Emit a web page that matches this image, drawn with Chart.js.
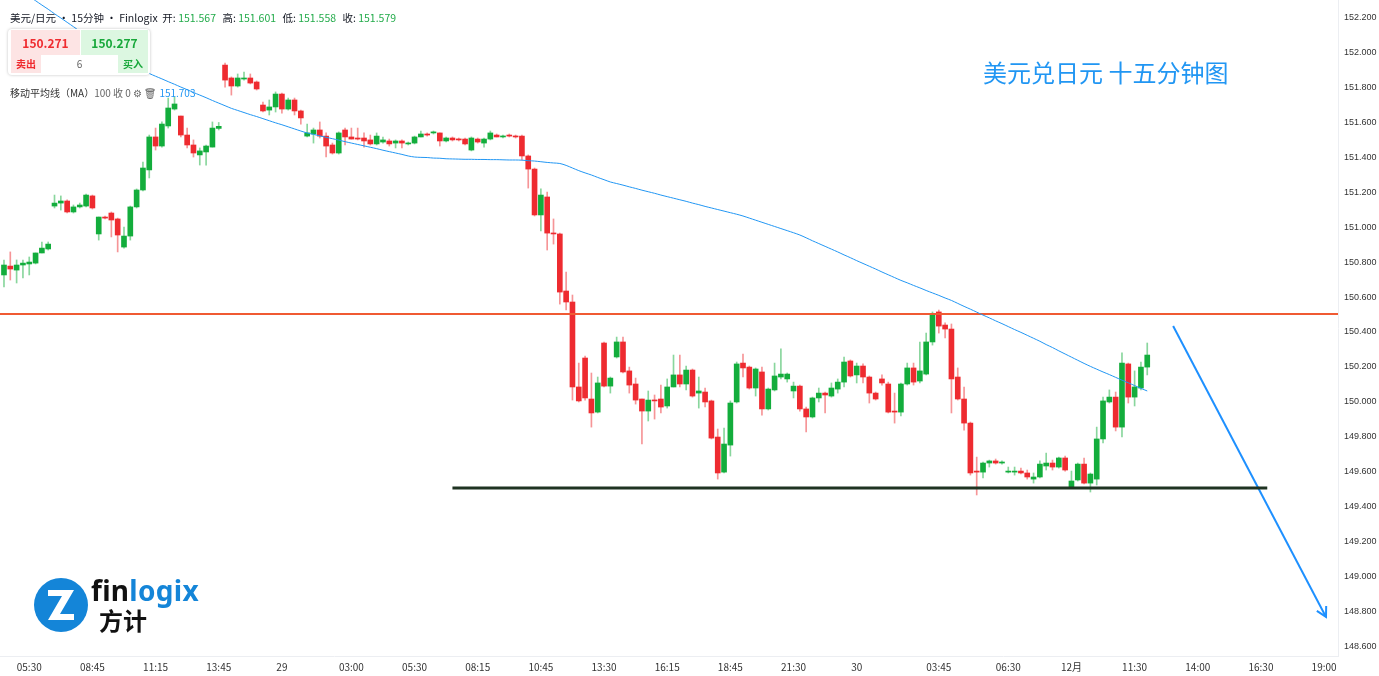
<!DOCTYPE html>
<html>
<head>
<meta charset="utf-8">
<script src="https://cdn.jsdelivr.net/npm/chart.js@4.4.1/dist/chart.umd.min.js"></script>
<style>
  html, body { margin: 0; padding: 0; background: #fff; }
  #wrap { position: relative; width: 1379px; height: 676px; overflow: hidden; font-family: "Noto Sans CJK SC", "Noto Sans", sans-serif; }
  #wrap canvas { position: absolute; left: 0; top: 0; }
  .ov { position: absolute; white-space: nowrap; }
  .hdr { left: 10px; top: 10px; font-size: 10.5px; color: #131722; }
  .hdr .v { color: #22ab4a; margin-right: 4px; }
  .box { left: 8px; top: 29px; width: 142px; height: 46px; border-radius: 4px; box-shadow: 0 0 3px rgba(0,0,0,0.25); background: #fff; }
  .cell { position: absolute; text-align: center; }
  .ma { left: 10px; top: 85px; font-size: 10px; color: #333; }
  .ma .g { color: #666; }
  .ma .b { color: #2196f3; margin-left: 2px; }
  .title { left: 983px; top: 54px; font-size: 24px; color: #2196f3; }
</style>
</head>
<body>
<div id="wrap">
  <canvas id="c" width="1379" height="676"></canvas>
  <div class="ov hdr">美元/日元 • 15分钟 • Finlogix&nbsp; 开: <span class="v">151.567</span> 高: <span class="v">151.601</span> 低: <span class="v">151.558</span> 收: <span class="v">151.579</span></div>
  <div class="ov box">
    <div class="cell" style="left:3px;top:1px;width:69px;height:25px;line-height:25px;background:#fde4e4;color:#ef2b2f;font-weight:bold;font-size:12px;">150.271</div>
    <div class="cell" style="left:73px;top:1px;width:67px;height:25px;line-height:25px;background:#dcf7e1;color:#18a83b;font-weight:bold;font-size:12px;">150.277</div>
    <div class="cell" style="left:3px;top:26px;width:30px;height:18px;line-height:18px;background:#fde4e4;color:#ef2b2f;font-weight:bold;font-size:10px;">卖出</div>
    <div class="cell" style="left:33px;top:26px;width:77px;height:18px;line-height:18px;color:#666;font-size:10px;">6</div>
    <div class="cell" style="left:110px;top:26px;width:30px;height:18px;line-height:18px;background:#dcf7e1;color:#18a83b;font-weight:bold;font-size:10px;">买入</div>
  </div>
  <div class="ov ma">移动平均线（MA）<span class="g">100 收 0 ⚙ 🗑</span><span class="b">151.703</span></div>
  <div class="ov title">美元兑日元 十五分钟图</div>
  <svg class="ov" style="left:34px;top:574px" width="170" height="62" viewBox="0 0 170 62">
    <circle cx="27" cy="31" r="27" fill="#1485d8"/>
    <path d="M14 16 H40 L26 40 H40 V46 H14 L28 22 H14 Z" fill="#fff"/>
    <text x="57" y="27" font-family="Noto Sans, sans-serif" font-weight="bold" font-size="28" letter-spacing="0.3"><tspan fill="#111">fin</tspan><tspan fill="#1485d8">logix</tspan></text>
    <text x="65" y="56" font-family="Noto Sans CJK SC, sans-serif" font-weight="bold" font-size="24" fill="#111">方计</text>
  </svg>
</div>
<script>
// tick labels on the time axis (bar index where each label sits)
const timeLabels = ['05:30', '08:45', '11:15', '13:45', '29', '03:00', '05:30', '08:15', '10:45', '13:30', '16:15',
  '18:45', '21:30', '30', '03:45', '06:30', '12月', '11:30', '14:00', '16:30', '19:00'];
const timeLabelIdx = [4, 14, 24, 34, 44, 55, 65, 75, 85, 95, 105, 115, 125, 135, 148, 159, 169, 179, 189, 199, 209];

const priceTicks = [148.6, 148.8, 149.0, 149.2, 149.4, 149.6, 149.8, 150.0, 150.2, 150.4, 150.6, 150.8, 151.0, 151.2, 151.4, 151.6, 151.8, 152.0, 152.2];

// 15 minute candles
const opens = [
  150.727, 150.778, 150.755, 150.784, 150.790, 150.795, 150.853, 150.876, 151.122, 151.139,
  151.151, 151.088, 151.117, 151.122, 151.180, 150.962, 151.059, 151.082, 151.048, 150.887,
  150.950, 151.117, 151.214, 151.329, 151.518, 151.466, 151.581, 151.678, 151.638, 151.529,
  151.472, 151.415, 151.432, 151.460, 151.567, 151.930, 151.856, 151.810, 151.850, 151.856,
  151.833, 151.701, 151.672, 151.690, 151.764, 151.678, 151.730, 151.667, 151.523, 151.535,
  151.558, 151.523, 151.472, 151.426, 151.558, 151.518, 151.512, 151.512, 151.501, 151.478,
  151.489, 151.495, 151.483, 151.495, 151.478, 151.483, 151.518, 151.535, 151.541, 151.541,
  151.495, 151.512, 151.506, 151.506, 151.443, 151.506, 151.483, 151.506, 151.529, 151.518,
  151.529, 151.523, 151.523, 151.409, 151.334, 151.071, 151.174, 150.967, 150.962, 150.635,
  150.572, 150.085, 150.251, 150.016, 149.941, 150.337, 150.090, 150.257, 150.343, 150.177,
  150.102, 150.016, 149.947, 150.010, 150.016, 149.976, 150.085, 150.154, 150.102, 150.182,
  150.050, 150.056, 150.005, 149.798, 149.597, 149.752, 149.999, 150.222, 150.199, 150.079,
  150.171, 149.959, 150.068, 150.142, 150.131, 150.062, 150.090, 149.959, 149.913, 150.022,
  150.050, 150.033, 150.073, 150.113, 150.234, 150.154, 150.205, 150.142, 150.050, 150.131,
  150.102, 149.947, 149.941, 150.102, 150.194, 150.119, 150.159, 150.343, 150.515, 150.440,
  150.417, 150.142, 150.016, 149.878, 149.603, 149.597, 149.649, 149.661, 149.649, 149.597,
  149.597, 149.603, 149.592, 149.557, 149.569, 149.632, 149.649, 149.626, 149.678, 149.511,
  149.552, 149.643, 149.534, 149.557, 149.787, 149.999, 150.027, 149.855, 150.217, 150.027,
  150.079, 150.199
];
const highs = [
  150.813, 150.859, 150.813, 150.813, 150.830, 150.853, 150.916, 150.916, 151.185, 151.180,
  151.157, 151.128, 151.139, 151.191, 151.185, 151.059, 151.065, 151.088, 151.053, 151.002,
  151.122, 151.220, 151.374, 151.529, 151.569, 151.604, 151.741, 151.747, 151.638, 151.569,
  151.501, 151.455, 151.472, 151.604, 151.601, 151.942, 151.862, 151.879, 151.890, 151.879,
  151.839, 151.718, 151.730, 151.776, 151.770, 151.741, 151.741, 151.672, 151.592, 151.569,
  151.604, 151.541, 151.483, 151.547, 151.569, 151.569, 151.569, 151.541, 151.529, 151.541,
  151.518, 151.506, 151.501, 151.501, 151.489, 151.523, 151.552, 151.541, 151.552, 151.541,
  151.518, 151.518, 151.512, 151.512, 151.518, 151.512, 151.512, 151.552, 151.535, 151.529,
  151.535, 151.529, 151.529, 151.415, 151.340, 151.220, 151.202, 151.048, 150.967, 150.744,
  150.612, 150.222, 150.262, 150.165, 150.142, 150.343, 150.142, 150.371, 150.371, 150.199,
  150.136, 150.016, 150.062, 150.039, 150.096, 150.131, 150.268, 150.268, 150.205, 150.188,
  150.142, 150.079, 150.010, 149.844, 149.850, 150.005, 150.228, 150.274, 150.205, 150.194,
  150.199, 150.079, 150.222, 150.303, 150.165, 150.113, 150.096, 149.970, 150.027, 150.079,
  150.056, 150.108, 150.131, 150.257, 150.240, 150.222, 150.217, 150.148, 150.056, 150.154,
  150.113, 150.050, 150.108, 150.222, 150.222, 150.343, 150.394, 150.515, 150.526, 150.452,
  150.446, 150.194, 150.085, 149.884, 149.683, 149.655, 149.666, 149.672, 149.661, 149.626,
  149.626, 149.620, 149.609, 149.592, 149.661, 149.706, 149.666, 149.683, 149.689, 149.603,
  149.649, 149.678, 149.592, 149.855, 150.027, 150.068, 150.056, 150.280, 150.222, 150.177,
  150.228, 150.337
];
const lows = [
  150.658, 150.698, 150.681, 150.710, 150.727, 150.790, 150.853, 150.870, 151.111, 151.099,
  151.082, 151.082, 151.111, 151.117, 151.105, 150.927, 151.048, 150.945, 150.859, 150.881,
  150.927, 151.111, 151.208, 151.283, 151.443, 151.460, 151.569, 151.672, 151.518, 151.455,
  151.403, 151.357, 151.357, 151.460, 151.558, 151.804, 151.758, 151.804, 151.844, 151.822,
  151.787, 151.661, 151.644, 151.661, 151.655, 151.672, 151.644, 151.592, 151.518, 151.483,
  151.512, 151.403, 151.420, 151.420, 151.472, 151.506, 151.501, 151.460, 151.472, 151.472,
  151.483, 151.466, 151.455, 151.455, 151.472, 151.478, 151.518, 151.523, 151.535, 151.466,
  151.489, 151.495, 151.495, 151.472, 151.438, 151.483, 151.460, 151.501, 151.518, 151.512,
  151.518, 151.512, 151.386, 151.225, 151.065, 150.979, 150.870, 150.904, 150.560, 150.526,
  150.010, 149.999, 150.010, 149.855, 149.936, 150.085, 150.050, 150.251, 150.165, 150.050,
  149.987, 149.758, 149.890, 149.901, 149.936, 149.964, 150.085, 150.085, 150.068, 150.027,
  149.964, 149.970, 149.787, 149.557, 149.592, 149.689, 149.993, 150.142, 150.073, 150.033,
  149.924, 149.953, 150.062, 150.131, 150.113, 150.022, 149.947, 149.827, 149.907, 149.999,
  149.936, 150.027, 150.050, 150.085, 150.142, 150.108, 150.108, 149.993, 150.010, 150.096,
  149.936, 149.878, 149.919, 150.096, 150.096, 150.108, 150.154, 150.325, 150.394, 150.366,
  149.936, 150.010, 149.838, 149.580, 149.466, 149.563, 149.626, 149.643, 149.643, 149.592,
  149.580, 149.586, 149.557, 149.534, 149.563, 149.609, 149.609, 149.620, 149.603, 149.511,
  149.546, 149.529, 149.483, 149.523, 149.764, 149.993, 149.833, 149.798, 149.993, 149.976,
  150.068, 150.154
];
const closes = [
  150.784, 150.761, 150.784, 150.795, 150.801, 150.853, 150.881, 150.904, 151.139, 151.151,
  151.088, 151.117, 151.128, 151.185, 151.111, 151.059, 151.053, 151.042, 150.956, 150.950,
  151.117, 151.214, 151.340, 151.518, 151.466, 151.592, 151.684, 151.707, 151.529, 151.472,
  151.426, 151.438, 151.466, 151.569, 151.579, 151.844, 151.810, 151.856, 151.856, 151.827,
  151.793, 151.667, 151.690, 151.764, 151.678, 151.730, 151.667, 151.627, 151.541, 151.558,
  151.523, 151.466, 151.426, 151.541, 151.518, 151.506, 151.506, 151.495, 151.478, 151.523,
  151.501, 151.478, 151.495, 151.483, 151.483, 151.518, 151.535, 151.529, 151.547, 151.495,
  151.512, 151.501, 151.501, 151.478, 151.512, 151.489, 151.506, 151.541, 151.518, 151.523,
  151.523, 151.518, 151.409, 151.334, 151.071, 151.185, 150.967, 150.962, 150.629, 150.572,
  150.085, 150.005, 150.022, 149.936, 150.108, 150.090, 150.136, 150.343, 150.171, 150.096,
  150.010, 149.947, 150.010, 150.005, 149.970, 150.085, 150.154, 150.102, 150.182, 150.033,
  150.062, 149.999, 149.792, 149.592, 149.758, 149.993, 150.217, 150.194, 150.079, 150.188,
  149.959, 150.073, 150.148, 150.159, 150.159, 150.090, 149.959, 149.913, 150.022, 150.050,
  150.039, 150.079, 150.113, 150.228, 150.148, 150.205, 150.142, 150.050, 150.016, 150.108,
  149.941, 149.941, 150.102, 150.194, 150.113, 150.177, 150.343, 150.503, 150.434, 150.417,
  150.131, 150.016, 149.878, 149.592, 149.597, 149.649, 149.661, 149.649, 149.655, 149.603,
  149.603, 149.592, 149.569, 149.569, 149.643, 149.649, 149.626, 149.678, 149.609, 149.546,
  149.643, 149.534, 149.586, 149.787, 150.005, 150.027, 149.855, 150.222, 150.027, 150.085,
  150.199, 150.268
];

// MA(100)
const maValues = [
  152.423, 152.399, 152.374, 152.349, 152.324, 152.299, 152.274, 152.250, 152.224, 152.200,
  152.175, 152.150, 152.125, 152.102, 152.080, 152.058, 152.036, 152.014, 151.991, 151.969,
  151.947, 151.925, 151.902, 151.882, 151.866, 151.851, 151.835, 151.820, 151.804, 151.789,
  151.773, 151.758, 151.743, 151.727, 151.712, 151.697, 151.682, 151.670, 151.658, 151.646,
  151.635, 151.623, 151.611, 151.599, 151.588, 151.576, 151.564, 151.552, 151.541, 151.533,
  151.524, 151.516, 151.508, 151.500, 151.491, 151.483, 151.475, 151.467, 151.459, 151.451,
  151.442, 151.434, 151.426, 151.418, 151.409, 151.403, 151.401, 151.400, 151.397, 151.396,
  151.393, 151.392, 151.391, 151.390, 151.390, 151.389, 151.389, 151.388, 151.388, 151.387,
  151.386, 151.386, 151.385, 151.382, 151.380, 151.376, 151.372, 151.369, 151.366, 151.355,
  151.340, 151.325, 151.312, 151.300, 151.286, 151.273, 151.260, 151.251, 151.242, 151.232,
  151.223, 151.213, 151.204, 151.195, 151.185, 151.176, 151.167, 151.158, 151.149, 151.139,
  151.130, 151.120, 151.111, 151.102, 151.093, 151.084, 151.075, 151.065, 151.053, 151.041,
  151.029, 151.017, 151.005, 150.993, 150.981, 150.969, 150.956, 150.940, 150.923, 150.907,
  150.891, 150.875, 150.859, 150.842, 150.826, 150.809, 150.793, 150.777, 150.761, 150.744,
  150.728, 150.712, 150.696, 150.682, 150.667, 150.653, 150.638, 150.624, 150.610, 150.595,
  150.581, 150.564, 150.547, 150.531, 150.514, 150.497, 150.481, 150.464, 150.448, 150.431,
  150.414, 150.398, 150.381, 150.364, 150.347, 150.328, 150.311, 150.292, 150.274, 150.256,
  150.238, 150.220, 150.203, 150.187, 150.171, 150.156, 150.140, 150.124, 150.109, 150.093,
  150.077, 150.062
];

// drawn levels
const resistanceLevel = 150.503;
const supportLevel = 149.506;
const supportFrom = 71, supportTo = 200;
const arrowFrom = [185.1, 150.434];
const arrowTo = [209.3, 148.767];

const UP = '#13ad3c';
const DOWN = '#ee2b30';
const UP_WICK = 'rgba(19,173,60,0.5)';
const DOWN_WICK = 'rgba(238,43,48,0.5)';

const bodies = opens.map((o, i) => ({ x: i, y: [o, closes[i]] }));
const wicks = opens.map((o, i) => ({ x: i, y: [lows[i], highs[i]] }));
const isUp = opens.map((o, i) => closes[i] >= o);

// arrow head on the forecast line + time labels under the plot
const extras = {
  id: 'extras',
  afterDatasetsDraw(chart) {
    const { ctx, chartArea, scales: { x, y } } = chart;
    const x1 = x.getPixelForValue(arrowFrom[0]), y1 = y.getPixelForValue(arrowFrom[1]);
    const x2 = x.getPixelForValue(arrowTo[0]), y2 = y.getPixelForValue(arrowTo[1]);
    const a = Math.atan2(y2 - y1, x2 - x1);
    const len = 11;
    ctx.save();
    ctx.strokeStyle = '#1e90ff';
    ctx.lineWidth = 2;
    ctx.beginPath();
    ctx.moveTo(x2 - len * Math.cos(a - 0.5), y2 - len * Math.sin(a - 0.5));
    ctx.lineTo(x2, y2);
    ctx.lineTo(x2 - len * Math.cos(a + 0.5), y2 - len * Math.sin(a + 0.5));
    ctx.stroke();

    ctx.strokeStyle = '#eceef2';
    ctx.lineWidth = 1;
    ctx.beginPath();
    ctx.moveTo(0, chartArea.bottom + 0.5);
    ctx.lineTo(chartArea.right, chartArea.bottom + 0.5);
    ctx.stroke();

    ctx.fillStyle = '#333';
    ctx.font = '10px "Noto Sans CJK SC"';
    ctx.textAlign = 'center';
    ctx.textBaseline = 'middle';
    timeLabels.forEach((t, k) => ctx.fillText(t, x.getPixelForValue(timeLabelIdx[k]), 667));
    ctx.restore();
  }
};

new Chart(document.getElementById('c'), {
  data: {
    datasets: [
      {
        type: 'line', label: 'MA', order: 0,
        data: maValues.map((v, i) => ({ x: i, y: v })),
        borderColor: '#2196f3', borderWidth: 1, pointRadius: 0, tension: 0.3
      },
      {
        type: 'line', label: 'resistance', order: 0,
        data: [{ x: -2, y: resistanceLevel }, { x: 215, y: resistanceLevel }],
        borderColor: '#f05a33', borderWidth: 2, pointRadius: 0
      },
      {
        type: 'line', label: 'support', order: 0,
        data: [{ x: supportFrom, y: supportLevel }, { x: supportTo, y: supportLevel }],
        borderColor: '#1f3322', borderWidth: 3, pointRadius: 0
      },
      {
        type: 'line', label: 'arrow', order: 0,
        data: [{ x: arrowFrom[0], y: arrowFrom[1] }, { x: arrowTo[0], y: arrowTo[1] }],
        borderColor: '#1e90ff', borderWidth: 2, pointRadius: 0
      },
      {
        type: 'bar', label: 'body', order: 1, grouped: false,
        data: bodies, barThickness: 5, minBarLength: 1,
        backgroundColor: isUp.map(u => u ? UP : DOWN)
      },
      {
        type: 'bar', label: 'wick', order: 2, grouped: false,
        data: wicks, barThickness: 1,
        backgroundColor: isUp.map(u => u ? UP_WICK : DOWN_WICK)
      }
    ]
  },
  options: {
    responsive: false,
    animation: false,
    layout: { padding: { left: 0, top: 0, right: 0, bottom: 20 }, autoPadding: false },
    plugins: { legend: { display: false }, tooltip: { enabled: false } },
    scales: {
      x: {
        type: 'linear', min: -0.63, max: 211.2,
        offset: false,
        display: false
      },
      y: {
        position: 'right', min: 148.543, max: 152.303,
        grid: { display: false, drawTicks: false },
        border: { color: '#eceef2' },
        afterBuildTicks: (s) => { s.ticks = priceTicks.map(v => ({ value: v })); },
        afterFit: (s) => { s.width = 41; s.paddingTop = 0; s.paddingBottom = 0; },
        ticks: {
          padding: 6,
          font: { family: 'Liberation Sans', size: 9 }, color: '#333',
          callback: (v) => v.toFixed(3)
        }
      }
    }
  },
  plugins: [extras]
});
</script>
</body>
</html>
